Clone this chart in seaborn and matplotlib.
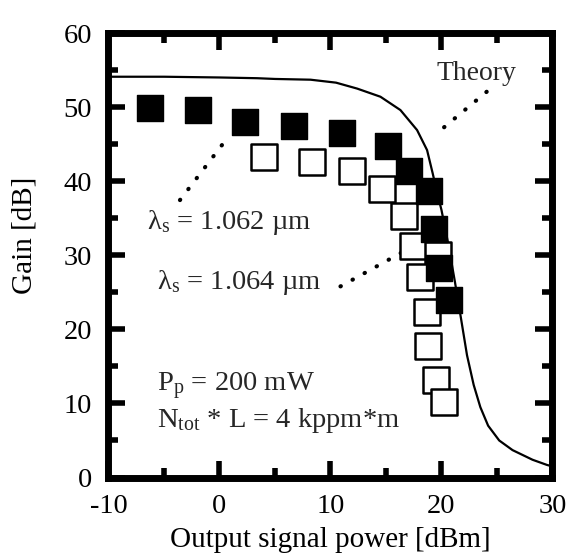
import matplotlib
matplotlib.use("Agg")
import matplotlib.pyplot as plt
import seaborn as sns
from matplotlib.ticker import MultipleLocator

# Measured gain, signal at 1.062 um (filled squares)
p_out_1062 = [-6.3, -1.9, 2.3, 6.7, 11.0, 15.2, 17.1, 18.9, 19.3, 19.8, 20.7]
gain_1062 = [49.9, 49.6, 48.0, 47.4, 46.5, 44.7, 41.4, 38.7, 33.6, 28.3, 24.0]

# Measured gain, signal at 1.064 um (open squares)
p_out_1064 = [4.0, 8.3, 11.9, 14.6, 16.6, 17.4, 19.7, 18.1, 18.7, 18.8, 19.5, 20.2]
gain_1064 = [43.3, 42.6, 41.4, 38.9, 35.3, 31.3, 30.0, 27.0, 22.3, 17.8, 13.2, 10.2]

# Theoretical gain saturation curve
p_out_theory = [-10, -5, 0, 3.4, 5, 8.2, 10.5, 12.4, 14.5, 16.3, 17.8, 18.7, 19.2,
                19.6, 20.0, 20.6, 21.2, 21.7, 22.3, 22.9, 23.5, 24.2, 25.2, 26.4,
                28.2, 29.5, 30]
gain_theory = [54.1, 54.1, 54.0, 53.9, 53.8, 53.7, 53.3, 52.5, 51.4, 49.6, 46.9, 44.2,
               41.1, 38.5, 36.1, 31.6, 26.5, 22.0, 16.5, 12.5, 9.5, 7.0, 5.0, 3.7,
               2.4, 1.7, 1.5]

x_ticks = [-10, 0, 10, 20, 30]
y_ticks = [0, 10, 20, 30, 40, 50, 60]

sns.set_theme(style="ticks")
plt.rcParams["font.family"] = ["Liberation Serif", "DejaVu Serif"]
plt.rcParams["mathtext.fontset"] = "custom"
plt.rcParams["mathtext.rm"] = "Liberation Serif"
plt.rcParams["mathtext.it"] = "Liberation Serif:italic"
plt.rcParams["axes.unicode_minus"] = False

fig = plt.figure(figsize=(5.68, 5.55), dpi=100)
ax = fig.add_axes([0.191, 0.1396, 0.7817, 0.8009])
ax.set_facecolor("white")
fig.patch.set_facecolor("white")

sns.lineplot(x=p_out_theory, y=gain_theory, color="black", linewidth=1.6,
             sort=False, estimator=None, ax=ax, zorder=2)
sns.scatterplot(x=p_out_1064, y=gain_1064, marker="s", s=330, color="white",
                edgecolor="black", linewidth=1.8, ax=ax, zorder=3)
sns.scatterplot(x=p_out_1062, y=gain_1062, marker="s", s=330, color="black",
                edgecolor="black", linewidth=1.0, ax=ax, zorder=4)

ax.set_xlim(-10, 30)
ax.set_ylim(0, 60)
ax.set_xticks(x_ticks)
ax.set_yticks(y_ticks)
ax.set_xticklabels([str(v) for v in x_ticks])
ax.set_yticklabels([str(v) for v in y_ticks])
ax.xaxis.set_minor_locator(MultipleLocator(5))
ax.yaxis.set_minor_locator(MultipleLocator(5))
ax.tick_params(which="both", direction="in", top=True, right=True,
               color="black", width=4)
ax.tick_params(which="major", length=12.5, labelsize=20.5, pad=12,
               labelcolor="black")
ax.tick_params(which="minor", length=7)
for sp in ax.spines.values():
    sp.set_visible(True)
    sp.set_linewidth(5)
    sp.set_color("black")

ax.set_xlabel("Output signal power [dBm]", fontsize=21, color="black")
ax.xaxis.set_label_coords(0.5, -0.112)
ax.set_ylabel("Gain [dB]", fontsize=21, color="black")
ax.yaxis.set_label_coords(-0.16, 0.545)

# Labels and dotted leaders
dot = dict(color="black", linewidth=3, linestyle=(0, (0.1, 3.2)),
           dash_capstyle="round")
ax.text(19.57, 53.6, "Theory", fontsize=20, ha="left", va="baseline")
ax.plot([24.07, 19.57], [52.07, 46.45], **dot)

ax.text(-6.56, 33.5, "λ$_{\\rm s}$ = 1.062 µm", fontsize=20.5, ha="left", va="baseline")
ax.plot([-3.56, 0.77], [37.45, 45.95], **dot)

ax.text(-5.66, 25.4, "λ$_{\\rm s}$ = 1.064 µm", fontsize=20.5, ha="left", va="baseline")
ax.plot([10.9, 16.45], [25.8, 30.4], **dot)

ax.text(-5.66, 11.6, "P$_{\\rm p}$ = 200 mW", fontsize=20.5, ha="left", va="baseline")
ax.text(-5.66, 6.86, "N$_{\\rm tot}$ * L = 4 kppm*m", fontsize=20.5, ha="left",
        va="baseline")

fig.savefig("out.png", dpi=100)
